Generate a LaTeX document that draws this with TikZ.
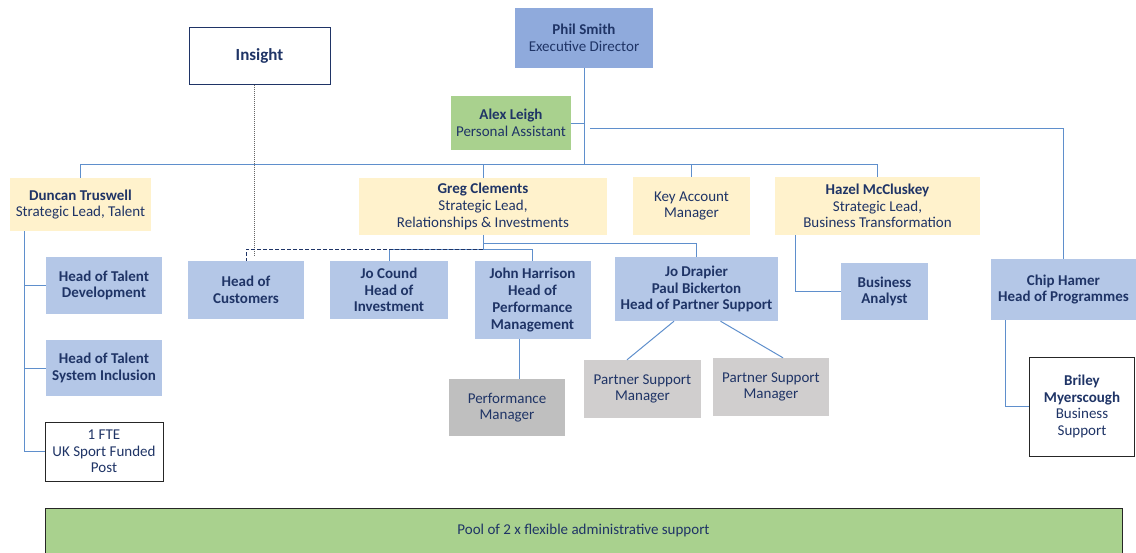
\documentclass[tikz,border=0pt]{standalone}
\usepackage{fontspec}
\setmainfont{Carlito}
\usepackage{tikz}

\definecolor{navy}{HTML}{1F3466}
\definecolor{linkblue}{HTML}{5F8FCC}
\definecolor{execblue}{HTML}{8FAADC}
\definecolor{headblue}{HTML}{B4C7E7}
\definecolor{leadyellow}{HTML}{FFF2CC}
\definecolor{pagreen}{HTML}{A9D18E}
\definecolor{mgrgray}{HTML}{D0CECE}
\definecolor{perfgray}{HTML}{BFBFBF}

\begin{document}
\begin{tikzpicture}[x=1pt,y=-1pt,
   box/.style={inner sep=0pt,align=center,text=navy,font=\fontsize{15}{16.7}\selectfont},
   exec/.style={box,fill=execblue},
   lead/.style={box,fill=leadyellow},
   head/.style={box,fill=headblue,font=\fontsize{15}{16.7}\selectfont\bfseries},
   mgr/.style={box,fill=mgrgray},
   plain/.style={box,fill=white,draw=black!85,line width=1pt},
   link/.style={linkblue,line width=1pt},
   dashlink/.style={navy,line width=1pt,dash pattern=on 4pt off 2pt},
   dotlink/.style={black!60,line width=1pt,densely dotted}]

   \useasboundingbox (0,0) rectangle (1136,552);

   \node[exec,minimum width=138pt,minimum height=60pt] (phil) at (584,38) {\textbf{Phil Smith}\\Executive Director};
   \node[plain,draw=navy,minimum width=141pt,minimum height=57pt,font=\fontsize{17}{20}\selectfont\bfseries] (insight) at (259.5,55.5) {Insight};
   \node[box,fill=pagreen,minimum width=120pt,minimum height=54pt] (alex) at (511,123) {\textbf{Alex Leigh}\\Personal Assistant};

   \node[lead,minimum width=141pt,minimum height=53pt] (duncan) at (80.5,204.5) {\textbf{Duncan Truswell}\\Strategic Lead, Talent};
   \node[lead,minimum width=248pt,minimum height=57pt] (greg) at (483,206.5) {\textbf{Greg Clements}\\Strategic Lead,\\Relationships \& Investments};
   \node[lead,minimum width=117pt,minimum height=58pt] (keyacc) at (691.5,206) {Key Account\\Manager};
   \node[lead,minimum width=205pt,minimum height=58pt] (hazel) at (877.5,206) {\textbf{Hazel McCluskey}\\Strategic Lead,\\Business Transformation};

   \node[head,minimum width=116.5pt,minimum height=57pt] (talentdev) at (104,285.5) {Head of Talent\\Development};
   \node[head,minimum width=116.5pt,minimum height=56pt] (talentsys) at (104,368) {Head of Talent\\System Inclusion};
   \node[plain,minimum width=118pt,minimum height=59pt] (fte) at (104,451.5) {1 FTE\\UK Sport Funded\\Post};

   \node[head,minimum width=116.5pt,minimum height=58pt] (customers) at (246,290) {Head of\\Customers};
   \node[head,minimum width=118pt,minimum height=58pt] (cound) at (389,290) {Jo Cound\\Head of\\Investment};
   \node[head,minimum width=116pt,minimum height=78pt] (harrison) at (532.5,300) {John Harrison\\Head of\\Performance\\Management};
   \node[head,minimum width=163pt,minimum height=64pt] (drapier) at (696.5,289) {Jo Drapier\\Paul Bickerton\\Head of Partner Support};
   \node[head,minimum width=87pt,minimum height=57pt] (business) at (884.5,291.5) {Business\\Analyst};
   \node[head,minimum width=145pt,minimum height=61pt] (chip) at (1063.5,289.5) {Chip Hamer\\Head of Programmes};

   \node[box,fill=perfgray,minimum width=116.5pt,minimum height=57pt] (perfmgr) at (507,407.5) {Performance\\Manager};
   \node[mgr,minimum width=117pt,minimum height=58pt] (psmone) at (642.5,389) {Partner Support\\Manager};
   \node[mgr,minimum width=116pt,minimum height=58pt] (psmtwo) at (771,387) {Partner Support\\Manager};
   \node[plain,minimum width=105pt,minimum height=99pt] (briley) at (1082,406.5) {\textbf{Briley}\\\textbf{Myerscough}\\Business\\Support};

   \node[box,fill=pagreen,draw=black!85,line width=1pt,minimum width=1077pt,minimum height=45pt] (pool) at (583.5,530.5) {Pool of 2 x flexible administrative support};

   \coordinate (bus) at (584,164);
   \draw[link] (phil.south) -- (bus);
   \draw[link] (bus -| duncan.north) -- (bus -| hazel.north);
   \foreach \n in {duncan,greg,keyacc,hazel} {
      \draw[link] (bus -| \n.north) -- (\n.north);
   }
   \draw[link] (alex.east) -- (alex.east -| bus);
   \coordinate (chipstart) at (590,128);
   \draw[link] (chipstart) -| (chip.north);

   \draw[dotlink] ([xshift=-5.5pt]insight.south) -- ++(0,172) coordinate (insightend);

   \coordinate (dleft) at (24,231);
   \draw[link] (dleft) |- (fte.west);
   \foreach \n in {talentdev,talentsys} {
      \draw[link] (dleft |- \n.west) -- (\n.west);
   }

   \coordinate (gjoin) at (483,249);
   \coordinate (gup) at (483,243);
   \draw[link] (greg.south) -- (gjoin);
   \draw[link] (gup) -| (drapier.north);
   \draw[link] (cound.north) |- (harrison.north |- gjoin) -- (harrison.north);
   \draw[dashlink] (gjoin) -| (customers.north);

   \draw[link] ([xshift=-13.5pt]harrison.south) -- ++(0,40);
   \draw[link] ([xshift=-22.5pt]drapier.south) -- ([xshift=-15.5pt]psmone.north);
   \draw[link] ([xshift=24pt]drapier.south) -- ([xshift=12pt]psmtwo.north);
   \draw[link] ([xshift=-82.5pt]hazel.south) |- (business.west);
   \draw[link] ([xshift=-58pt]chip.south) |- (briley.west);

\end{tikzpicture}
\end{document}
